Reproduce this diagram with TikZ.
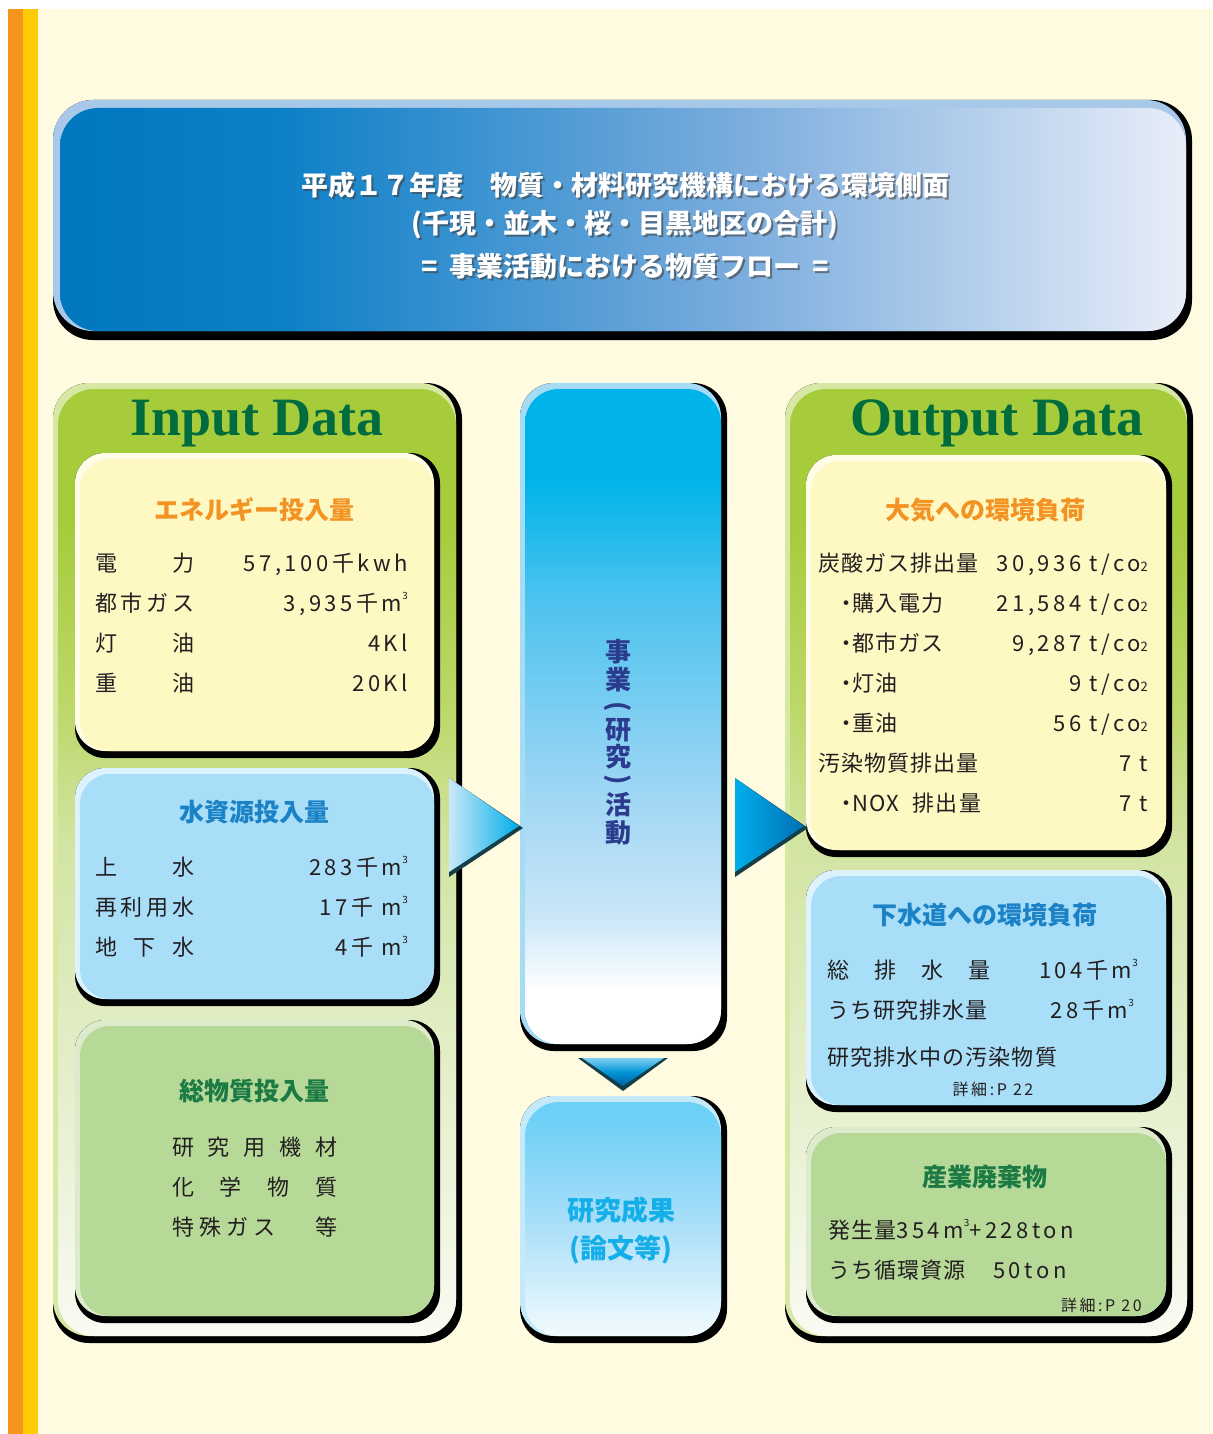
\documentclass[tikz,border=0pt]{standalone}
\usepackage{fontspec}
\setmainfont{Noto Sans CJK JP}
\newfontfamily\valfont{Noto Sans CJK JP}[LetterSpace=16]
\newfontfamily\lblfont{Noto Sans CJK JP}[LetterSpace=5]
\newfontfamily\serifb{Liberation Serif}
\definecolor{cream}{HTML}{FFFBE0}
\definecolor{orangeS}{HTML}{F7941D}
\definecolor{yellowS}{HTML}{FFCB05}
\definecolor{titA}{HTML}{0077BF}
\definecolor{titB}{HTML}{0E80C7}
\definecolor{titC}{HTML}{7AACDD}
\definecolor{titD}{HTML}{E8EEF8}
\definecolor{titRim}{HTML}{A8C8EA}
\definecolor{pA}{HTML}{A6CB3B}
\definecolor{pB}{HTML}{BDD86A}
\definecolor{pC}{HTML}{D2E4A2}
\definecolor{pD}{HTML}{DEEBBE}
\definecolor{pE}{HTML}{EEF4DE}
\definecolor{pW}{HTML}{FAFAF2}
\definecolor{panelRim}{HTML}{D6E8A4}
\definecolor{yelbox}{HTML}{FEF8C3}
\definecolor{yelRim}{HTML}{FFFDE6}
\definecolor{bluebox}{HTML}{A9DEF9}
\definecolor{blueRim}{HTML}{DCF2FC}
\definecolor{grnbox}{HTML}{B6D998}
\definecolor{grnRim}{HTML}{DDEBCC}
\definecolor{mA}{HTML}{00B4EA}
\definecolor{mB}{HTML}{4CC3EF}
\definecolor{mC}{HTML}{A0D6F4}
\definecolor{mD}{HTML}{C8E6F7}
\definecolor{midRim}{HTML}{A6DBF5}
\definecolor{rA}{HTML}{6DD0F7}
\definecolor{rB}{HTML}{A6DEF8}
\definecolor{rC}{HTML}{F2FAFE}
\definecolor{resRim}{HTML}{C4EAFA}
\definecolor{hOrange}{HTML}{F39324}
\definecolor{hBlue}{HTML}{1B82C6}
\definecolor{hGreen}{HTML}{1C7A44}
\definecolor{inGreen}{HTML}{006C3E}
\definecolor{midText}{HTML}{2B3B8E}
\definecolor{resText}{HTML}{14AEE8}
\definecolor{txt}{HTML}{231F20}
\definecolor{triDark}{HTML}{153E48}
\definecolor{triL}{HTML}{C9E8F9}
\definecolor{triC}{HTML}{00AEEA}
\definecolor{triR}{HTML}{0070B5}
\definecolor{triTop}{HTML}{7FCFF2}
\definecolor{triBot}{HTML}{005EA6}
\pgfdeclarehorizontalshading{titleshade}{100bp}{color(0bp)=(titA); color(25bp)=(titA); color(35bp)=(titB); color(55bp)=(titC); color(75bp)=(titD); color(100bp)=(titD)}
\pgfdeclareverticalshading{panelshade}{100bp}{color(0bp)=(pW); color(25bp)=(pW); color(32bp)=(pE); color(43bp)=(pD); color(51bp)=(pC); color(58bp)=(pB); color(68bp)=(pA); color(100bp)=(pA)}
\pgfdeclareverticalshading{midshade}{100bp}{color(0bp)=(white); color(25bp)=(white); color(29bp)=(white); color(35bp)=(mD); color(44bp)=(mC); color(59bp)=(mB); color(68bp)=(mA); color(100bp)=(mA)}
\pgfdeclareverticalshading{resshade}{100bp}{color(0bp)=(rC); color(25bp)=(rC); color(50bp)=(rB); color(72bp)=(rA); color(100bp)=(rA)}
\newcommand\bevbox[7]{%
  \fill[black,rounded corners=#5] (#1,#2) rectangle (#3,#4);
  \fill[#6,rounded corners=#5] (#1,#2) rectangle ({#3-6},{#4-7});
  \path[#7,rounded corners=#5] ({#1+5},{#2+6}) rectangle ({#3-6},{#4-7});
}
\newcommand\cube{\raisebox{12pt}{\fontsize{10}{10}\selectfont 3}}
\newcommand\cotwo{co{\fontsize{13}{13}\selectfont 2}}
\tikzset{
  lbl/.style={anchor=base west,inner sep=0pt,text=txt,font=\lblfont\fontsize{22}{22}\selectfont},
  val/.style={anchor=base east,inner sep=0pt,text=txt,font=\valfont\fontsize{22}{22}\selectfont},
  head/.style={inner sep=0pt,font=\fontsize{25}{25}\selectfont\bfseries},
  bigtitle/.style={anchor=base,inner sep=0pt,text=inGreen,font=\serifb\fontsize{54}{54}\selectfont\bfseries},
  ttl/.style={inner sep=0pt,text=white,font=\fontsize{27}{27}\selectfont\bfseries},
  ttlshadow/.style={inner sep=0pt,text=black!75,opacity=0.6,font=\fontsize{27}{27}\selectfont\bfseries},
  vchar/.style={inner sep=0pt,text=midText,font=\fontsize{26}{26}\selectfont\bfseries},
  small/.style={inner sep=0pt,text=txt,font=\valfont\fontsize{16}{16}\selectfont}
}
\begin{document}
\begin{tikzpicture}[x=1pt,y=-1pt]
\useasboundingbox (0,0) rectangle (1212,1434);
% background
\fill[white] (0,0) rectangle (1212,1434);
\fill[cream] (8,9) rectangle (1212,1434);
\fill[orangeS] (8,9) rectangle (23,1434);
\fill[yellowS] (23,9) rectangle (38,1434);
% title box
\fill[black,rounded corners=40pt] (53,100) rectangle (1192,340);
\fill[titRim,rounded corners=40pt] (53,100) rectangle (1186,331);
\shade[shading=titleshade,rounded corners=38pt] (60,108) rectangle (1186,331);
\node[ttlshadow] (t1s) at (627,187) {平成１７年度　物質・材料研究機構における環境側面};
\node[ttl] (t1) at (625,185) {平成１７年度　物質・材料研究機構における環境側面};
\node[ttlshadow] (t2s) at (627,227) {(千現・並木・桜・目黒地区の合計)};
\node[ttl] (t2) at (625,225) {(千現・並木・桜・目黒地区の合計)};
\node[ttlshadow] (t3s) at (627,268) {=\hspace{12pt}事業活動における物質フロー\hspace{12pt}=};
\node[ttl] (t3) at (625,266) {=\hspace{12pt}事業活動における物質フロー\hspace{12pt}=};
% panels
\bevbox{53}{383}{462}{1343}{36pt}{panelRim}{shade,shading=panelshade}
\bevbox{785}{383}{1193}{1343}{36pt}{panelRim}{shade,shading=panelshade}
% input boxes
\bevbox{75}{453}{440}{758}{30pt}{yelRim}{fill=yelbox}
\bevbox{75}{768}{440}{1006}{30pt}{blueRim}{fill=bluebox}
\bevbox{75}{1020}{440}{1323}{30pt}{grnRim}{fill=grnbox}
% output boxes
\bevbox{806}{455}{1172}{857}{30pt}{yelRim}{fill=yelbox}
\bevbox{806}{870}{1172}{1112}{30pt}{blueRim}{fill=bluebox}
\bevbox{806}{1127}{1172}{1323}{30pt}{grnRim}{fill=grnbox}
% middle column
\bevbox{520}{383}{727}{1051}{34pt}{midRim}{shade,shading=midshade}
\bevbox{520}{1096}{727}{1343}{34pt}{resRim}{shade,shading=resshade}
% arrows
\fill[triDark] (449,778) -- (523,828) -- (449,877) -- cycle;
\shade[left color=triL,right color=triC] (449,778) -- (519,826) -- (449,872) -- cycle;
\fill[triDark] (735,778) -- (808,828) -- (735,877) -- cycle;
\shade[left color=triC,right color=triR] (735,778) -- (804,826) -- (735,872) -- cycle;
\fill[triDark] (578,1058) -- (668,1058) -- (623,1091) -- cycle;
\shade[top color=triTop,bottom color=triBot,middle color=triC!70!triBot] (582,1058) -- (664,1058) -- (623,1086) -- cycle;
% big titles
\node[bigtitle] (inT) at (257,435) {Input Data};
\node[bigtitle] (outT) at (997,435) {Output Data};
% headings
\node[head,text=hOrange] (h1) at (254,510) {エネルギー投入量};
\node[head,text=hBlue] (h2) at (254,812) {水資源投入量};
\node[head,text=hGreen] (h3) at (254,1091) {総物質投入量};
\node[head,text=hOrange] (h4) at (985,510) {大気への環境負荷};
\node[head,text=hBlue] (h5) at (985,915) {下水道への環境負荷};
\node[head,text=hGreen] (h6) at (985,1177) {産業廃棄物};
% energy rows
\node[lbl] (e1l) at (95,571) {\makebox[99pt][s]{電\hfill 力}};
\node[val] (e1v) at (408,571) {57,100千kwh};
\node[lbl] (e2l) at (95,611) {\makebox[99pt][s]{都\hfill 市\hfill ガ\hfill ス}};
\node[val] (e2v) at (408,611) {3,935千m\cube};
\node[lbl] (e3l) at (95,651) {\makebox[99pt][s]{灯\hfill 油}};
\node[val] (e3v) at (408,651) {4Kl};
\node[lbl] (e4l) at (95,691) {\makebox[99pt][s]{重\hfill 油}};
\node[val] (e4v) at (408,691) {20Kl};
% water rows
\node[lbl] (w1l) at (95,875) {\makebox[99pt][s]{上\hfill 水}};
\node[val] (w1v) at (408,875) {283千m\cube};
\node[lbl] (w2l) at (95,915) {\makebox[99pt][s]{再\hfill 利\hfill 用\hfill 水}};
\node[val] (w2v) at (408,915) {17千 m\cube};
\node[lbl] (w3l) at (95,955) {\makebox[99pt][s]{地\hfill 下\hfill 水}};
\node[val] (w3v) at (408,955) {4千 m\cube};
% material rows
\node[lbl] (m1) at (172,1155) {\makebox[165pt][s]{研\hfill 究\hfill 用\hfill 機\hfill 材}};
\node[lbl] (m2) at (172,1195) {\makebox[165pt][s]{化\hfill 学\hfill 物\hfill 質}};
\node[lbl] (m3) at (172,1235) {\makebox[165pt][s]{特\hspace{5pt}殊\hspace{5pt}ガ\hspace{5pt}ス\hfill 等}};
% atmosphere rows
\node[lbl] (a1l) at (818,571) {炭酸ガス排出量};
\node[val] (a1v) at (1148,571) {30,936\hspace{8pt}t/\cotwo};
\node[lbl] (a2l) at (840,611) {\makebox[12pt]{・}購入電力};
\node[val] (a2v) at (1148,611) {21,584\hspace{8pt}t/\cotwo};
\node[lbl] (a3l) at (840,651) {\makebox[12pt]{・}都市ガス};
\node[val] (a3v) at (1148,651) {9,287\hspace{8pt}t/\cotwo};
\node[lbl] (a4l) at (840,691) {\makebox[12pt]{・}灯油};
\node[val] (a4v) at (1148,691) {9\hspace{8pt}t/\cotwo};
\node[lbl] (a5l) at (840,731) {\makebox[12pt]{・}重油};
\node[val] (a5v) at (1148,731) {56\hspace{8pt}t/\cotwo};
\node[lbl] (a6l) at (818,771) {汚染物質排出量};
\node[val] (a6v) at (1148,771) {7\hspace{8pt}t};
\node[lbl] (a7l) at (840,811) {\makebox[12pt]{・}NOX\hspace{14pt}排出量};
\node[val] (a7v) at (1148,811) {7\hspace{8pt}t};
% sewer rows
\node[lbl] (s1l) at (827,978) {\makebox[163pt][s]{総\hfill 排\hfill 水\hfill 量}};
\node[val] (s1v) at (1138,978) {104千m\cube};
\node[lbl] (s2l) at (827,1018) {うち研究排水量};
\node[val] (s2v) at (1134,1018) {28千m\cube};
\node[lbl] (s3l) at (827,1065) {研究排水中の汚染物質};
\node[small] (s4) at (993,1089) {詳細:P 22};
% waste rows
\node[lbl] (i1l) at (828,1238) {発生量{\valfont 354m\cube+228ton}};
\node[lbl] (i2l) at (828,1278) {うち循環資源};
\node[lbl,font=\valfont\fontsize{22}{22}\selectfont] (i2v) at (993,1278) {50ton};
\node[small,anchor=east] (i3) at (1142,1305) {詳細:P 20};
% middle vertical text
\node[vchar] (v1) at (618,652) {事};
\node[vchar] (v2) at (618,680) {業};
\node[vchar,rotate=-90] (v3) at (618,707) {(};
\node[vchar] (v4) at (618,730) {研};
\node[vchar] (v5) at (618,757) {究};
\node[vchar,rotate=-90] (v6) at (618,780) {)};
\node[vchar] (v7) at (618,805) {活};
\node[vchar] (v8) at (618,833) {動};
% research result
\node[head,text=resText,font=\fontsize{27}{27}\selectfont\bfseries] (r1) at (621,1210) {研究成果};
\node[head,text=resText,font=\fontsize{27}{27}\selectfont\bfseries] (r2) at (621,1250) {(論文等)};
\end{tikzpicture}
\end{document}
